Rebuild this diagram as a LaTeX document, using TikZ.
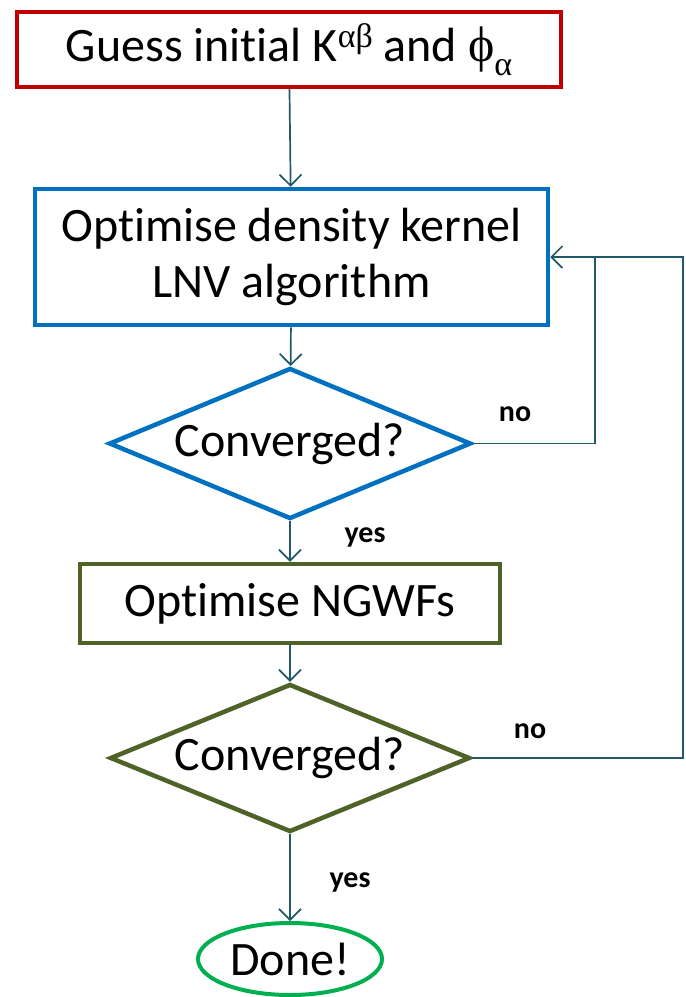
\documentclass[tikz,border=0pt]{standalone}
\usepackage{fontspec}
\setmainfont[Ligatures=NoCommon]{Carlito}
\newfontfamily\grk{Liberation Serif}
\usetikzlibrary{shapes.geometric,arrows.meta}
\definecolor{cred}{HTML}{C00000}
\definecolor{cblue}{HTML}{0070C0}
\definecolor{colive}{HTML}{4F6228}
\definecolor{cgreen}{HTML}{00B050}
\definecolor{cteal}{HTML}{215968}
\tikzset{
  boxst/.style={draw, rectangle, line width=#1, inner sep=0pt, align=center, font=\fontsize{48}{56}\selectfont},
  diast/.style={draw, diamond, aspect=2.45, line width=4.5pt, inner sep=0pt, font=\fontsize{48}{56}\selectfont},
  conn/.style={draw=cteal, line width=1.7pt, -{Straight Barb[length=11pt,width=22pt,line width=1.7pt]}},
  line/.style={draw=cteal, line width=1.7pt},
  lab/.style={font=\bfseries\fontsize{30}{34}\selectfont, inner sep=0pt}
}
\begin{document}
\begin{tikzpicture}[x=1pt,y=-1pt]
\useasboundingbox[fill=white] (0,0) rectangle (686,997);
\node[boxst=3.5pt, draw=cred, minimum width=544pt, minimum height=75pt] (b1) at (289,49.5)
  {Guess initial K\raisebox{0.62ex}{\grk\fontsize{34}{34}\selectfont αβ} and {\grk\fontsize{50}{50}\selectfont ϕ}\raisebox{-0.6ex}{\grk\fontsize{34}{34}\selectfont α}};
\node[boxst=4.5pt, draw=cblue, minimum width=513pt, minimum height=136pt] (b2) at (291.5,257)
  {Optimise density kernel\\LNV algorithm};
\node[diast, draw=cblue, minimum width=362pt, minimum height=151pt] (d1) at (290,443.5) {Converged?};
\node[boxst=4.5pt, draw=colive, minimum width=420pt, minimum height=79pt] (b3) at (290,603.5) {Optimise NGWFs};
\node[diast, draw=colive, minimum width=360pt, minimum height=148pt] (d2) at (290,758) {Converged?};
\node[draw=cgreen, ellipse, line width=4pt, minimum width=184pt, minimum height=72pt, inner sep=0pt, font=\fontsize{48}{56}\selectfont] (e) at (290,959) {Done!};
\coordinate (jn) at (595,257);
\coordinate (rc) at (683,257);
\draw[conn] (b1) -- (b2);
\draw[conn] (b2) -- (d1);
\draw[conn] (d1) -- (b3);
\draw[conn] (b3) -- (d2);
\draw[conn] (d2) -- (e);
\draw[line] (d1.east) -| (jn);
\draw[conn] (jn) -- (b2.east);
\draw[line] (d2.east) -| (rc) -- (jn);
\node[lab] (n1) at (515,414) {no};
\node[lab] (n2) at (530,731) {no};
\node[lab] (y1) at (365,537) {yes};
\node[lab] (y2) at (350,882) {yes};
\end{tikzpicture}
\end{document}
